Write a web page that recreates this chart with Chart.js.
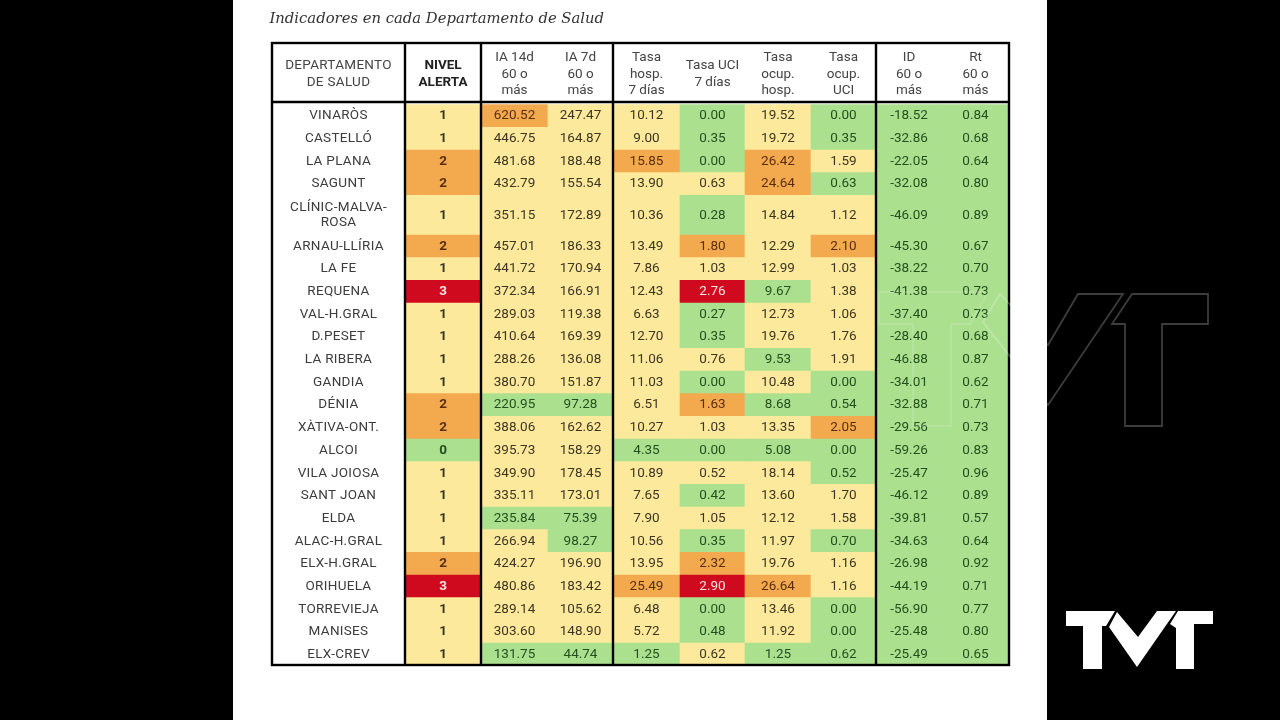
<!DOCTYPE html>
<html lang="es">
<head>
  <meta charset="UTF-8">
  <title>Indicadores en cada Departamento de Salud</title>
  <script src="https://cdn.jsdelivr.net/npm/chart.js"></script>
  <style>
    html, body { margin: 0; height: 100%; background: #000; overflow: hidden; }
    #sheet { position: absolute; left: 233px; top: 0; width: 814px; height: 720px; background: #fff; }
    canvas, svg { position: absolute; left: 0; top: 0; }
  </style>
</head>
<body>
<div id="sheet"></div>
<canvas id="table" width="1280" height="720"></canvas>
<!-- marca de agua y logo del video -->
<svg width="1280" height="720">
  <g fill="none" stroke="#fff" stroke-width="1.8">
    <polygon stroke-opacity="0.14" points="879,292 988,292 970,324 951,324 951,426 913,426 913,324 879,324"/>
    <polygon stroke-opacity="0.24" points="1000,294 1048,345 1078,294 1123,294 1048,405 983,322"/>
    <polygon stroke-opacity="0.24" points="1132,294 1208,294 1208,324 1162,324 1162,426 1125,426 1125,324 1112,324"/>
  </g>
  <g fill="#fff">
    <polygon points="1066,611 1115,611 1106,626 1102,626 1102,669 1083,669 1083,626 1066,626"/>
    <polygon points="1117,612 1138,637 1157,611 1176,611 1137,667 1109,627"/>
    <polygon points="1178,611 1213,611 1213,624 1194,624 1194,669 1176,669 1176,628 1170,624"/>
  </g>
</svg>

<script>
  const departments = ["VINARÒS", "CASTELLÓ", "LA PLANA", "SAGUNT", ["CLÍNIC-MALVA-", "ROSA"], "ARNAU-LLÍRIA", "LA FE", "REQUENA",
    "VAL-H.GRAL", "D.PESET", "LA RIBERA", "GANDIA", "DÉNIA", "XÀTIVA-ONT.", "ALCOI", "VILA JOIOSA", "SANT JOAN", "ELDA",
    "ALAC-H.GRAL", "ELX-H.GRAL", "ORIHUELA", "TORREVIEJA", "MANISES", "ELX-CREV"];
  const headers = [["DEPARTAMENTO", "DE SALUD"], ["NIVEL", "ALERTA"], ["IA 14d", "60 o", "más"], ["IA 7d", "60 o", "más"],
    ["Tasa", "hosp.", "7 días"], ["Tasa UCI", "7 días"], ["Tasa", "ocup.", "hosp."], ["Tasa", "ocup.", "UCI"],
    ["ID", "60 o", "más"], ["Rt", "60 o", "más"]];

  const nivelAlerta = [1, 1, 2, 2, 1, 2, 1, 3, 1, 1, 1, 1, 2, 2, 0, 1, 1, 1, 1, 2, 3, 1, 1, 1];
  const ia14d = [620.52, 446.75, 481.68, 432.79, 351.15, 457.01, 441.72, 372.34, 289.03, 410.64, 288.26, 380.70,
    220.95, 388.06, 395.73, 349.90, 335.11, 235.84, 266.94, 424.27, 480.86, 289.14, 303.60, 131.75];
  const ia7d = [247.47, 164.87, 188.48, 155.54, 172.89, 186.33, 170.94, 166.91, 119.38, 169.39, 136.08, 151.87,
    97.28, 162.62, 158.29, 178.45, 173.01, 75.39, 98.27, 196.90, 183.42, 105.62, 148.90, 44.74];
  const tasaHosp = [10.12, 9.00, 15.85, 13.90, 10.36, 13.49, 7.86, 12.43, 6.63, 12.70, 11.06, 11.03,
    6.51, 10.27, 4.35, 10.89, 7.65, 7.90, 10.56, 13.95, 25.49, 6.48, 5.72, 1.25];
  const tasaUci = [0.00, 0.35, 0.00, 0.63, 0.28, 1.80, 1.03, 2.76, 0.27, 0.35, 0.76, 0.00,
    1.63, 1.03, 0.00, 0.52, 0.42, 1.05, 0.35, 2.32, 2.90, 0.00, 0.48, 0.62];
  const ocupHosp = [19.52, 19.72, 26.42, 24.64, 14.84, 12.29, 12.99, 9.67, 12.73, 19.76, 9.53, 10.48,
    8.68, 13.35, 5.08, 18.14, 13.60, 12.12, 11.97, 19.76, 26.64, 13.46, 11.92, 1.25];
  const ocupUci = [0.00, 0.35, 1.59, 0.63, 1.12, 2.10, 1.03, 1.38, 1.06, 1.76, 1.91, 0.00,
    0.54, 2.05, 0.00, 0.52, 1.70, 1.58, 0.70, 1.16, 1.16, 0.00, 0.00, 0.62];
  const id60 = [-18.52, -32.86, -22.05, -32.08, -46.09, -45.30, -38.22, -41.38, -37.40, -28.40, -46.88, -34.01,
    -32.88, -29.56, -59.26, -25.47, -46.12, -39.81, -34.63, -26.98, -44.19, -56.90, -25.48, -25.49];
  const rt60 = [0.84, 0.68, 0.64, 0.80, 0.89, 0.67, 0.70, 0.73, 0.73, 0.68, 0.87, 0.62,
    0.71, 0.73, 0.83, 0.96, 0.89, 0.57, 0.64, 0.92, 0.71, 0.77, 0.80, 0.65];

  // limites verde / amarillo / naranja de cada indicador
  const nivelBands = [1, 2, 3];
  const ia14Bands = [250, 500, Infinity];
  const ia7Bands = [100, 250, Infinity];
  const hospBands = [5, 15, Infinity];
  const uciBands = [0.5, 1.5, 2.5];
  const ocupHospBands = [10, 20, Infinity];
  const ocupUciBands = [1, 2, Infinity];
  const allGreen = [Infinity, Infinity, Infinity];

  const indicators = [
    { values: nivelAlerta, bands: nivelBands, decimals: 0 },
    { values: ia14d, bands: ia14Bands, decimals: 2 },
    { values: ia7d, bands: ia7Bands, decimals: 2 },
    { values: tasaHosp, bands: hospBands, decimals: 2 },
    { values: tasaUci, bands: uciBands, decimals: 2 },
    { values: ocupHosp, bands: ocupHospBands, decimals: 2 },
    { values: ocupUci, bands: ocupUciBands, decimals: 2 },
    { values: id60, bands: allGreen, decimals: 2 },
    { values: rt60, bands: allGreen, decimals: 2 }
  ];

  const fills = ["#abe08f", "#fde99b", "#f3aa4f", "#cf0a1f"];
  const inks = ["#24501f", "#3b3622", "#5a2d0c", "#ffe4e4"];

  // anchos de columna y alto de fila, en unidades de los ejes
  const colWidths = [133, 76, 67, 65, 67, 65, 66, 65, 66, 67];
  const colEdges = colWidths.reduce((e, w) => e.concat(e[e.length - 1] + w), [0]);
  const sepEdges = [1, 2, 4, 8];
  const rowSpans = [2.69].concat(departments.map(d => Array.isArray(d) ? 1.75 : 1));
  const rowEdges = rowSpans.reduce((e, s) => e.concat(e[e.length - 1] + s), [0]);
  const plotHeight = 622;
  const pxPerRow = plotHeight / rowEdges[rowEdges.length - 1];

  function band(value, limits) {
    let i = 0;
    while (i < limits.length && value >= limits[i]) i++;
    return i;
  }

  function rowDataset(rowIndex) {
    const isHeader = rowIndex === 0;
    const r = rowIndex - 1;
    const cells = colWidths.map((w, c) => {
      if (isHeader) return { lines: [].concat(headers[c]), fill: "#fff", ink: c === 1 ? "#222" : "#444", bold: c === 1 };
      if (c === 0) return { lines: [].concat(departments[r]), fill: "#fff", ink: "#3c3c3c", bold: false };
      const ind = indicators[c - 1];
      const level = band(ind.values[r], ind.bands);
      return { lines: [ind.values[r].toFixed(ind.decimals)], fill: fills[level], ink: inks[level], bold: c === 1 };
    });
    return {
      label: isHeader ? "header" : [].concat(departments[r]).join(" "),
      data: colWidths.map((w, c) => ({ x: [colEdges[c], colEdges[c + 1]], y: rowEdges[rowIndex] + rowSpans[rowIndex] / 2 })),
      backgroundColor: cells.map(c => c.fill),
      barThickness: rowSpans[rowIndex] * pxPerRow,
      grouped: false,
      cells: cells
    };
  }

  const tableText = {
    id: "tableText",
    afterDatasetsDraw(chart) {
      const { ctx, scales: { x, y }, chartArea } = chart;
      ctx.save();

      // textos de cada celda
      ctx.textAlign = "center";
      ctx.textBaseline = "middle";
      chart.data.datasets.forEach((ds, d) => {
        const bars = chart.getDatasetMeta(d).data;
        const lineHeight = d === 0 ? 16.4 : 15.5;
        ds.cells.forEach((cell, c) => {
          const p = bars[c].getCenterPoint();
          ctx.fillStyle = cell.ink;
          ctx.font = (cell.bold ? "bold " : "") + "13.5px Roboto";
          ctx.letterSpacing = c === 0 ? "0.3px" : "0px";
          cell.lines.forEach((line, l) => {
            ctx.fillText(line, p.x, p.y + 0.8 + (l - (cell.lines.length - 1) / 2) * lineHeight);
          });
        });
      });
      ctx.letterSpacing = "0px";

      // bordes negros
      ctx.strokeStyle = "#000";
      ctx.lineWidth = 2.4;
      ctx.strokeRect(chartArea.left, chartArea.top, chartArea.width, chartArea.height);
      ctx.beginPath();
      sepEdges.forEach(e => {
        ctx.moveTo(x.getPixelForValue(colEdges[e]), chartArea.top);
        ctx.lineTo(x.getPixelForValue(colEdges[e]), chartArea.bottom);
      });
      ctx.moveTo(chartArea.left, y.getPixelForValue(rowEdges[1]) - 2);
      ctx.lineTo(chartArea.right, y.getPixelForValue(rowEdges[1]) - 2);
      ctx.stroke();

      // titulo
      ctx.textAlign = "left";
      ctx.fillStyle = "#333";
      ctx.font = "italic 14.8px 'DejaVu Serif'";
      ctx.fillText("Indicadores en cada Departamento de Salud", 269.5, 19);
      ctx.restore();
    }
  };

  new Chart(document.getElementById("table"), {
    type: "bar",
    data: { datasets: rowSpans.map((s, i) => rowDataset(i)) },
    options: {
      indexAxis: "y",
      responsive: false,
      animation: false,
      layout: { padding: { left: 272, right: 271, top: 43, bottom: 55 } },
      scales: {
        x: { type: "linear", min: 0, max: colEdges[colEdges.length - 1], display: false },
        y: { type: "linear", min: 0, max: rowEdges[rowEdges.length - 1], reverse: true, offset: false, display: false }
      },
      plugins: { legend: { display: false }, tooltip: { enabled: false }, title: { display: false } }
    },
    plugins: [tableText]
  });
</script>
</body>
</html>
